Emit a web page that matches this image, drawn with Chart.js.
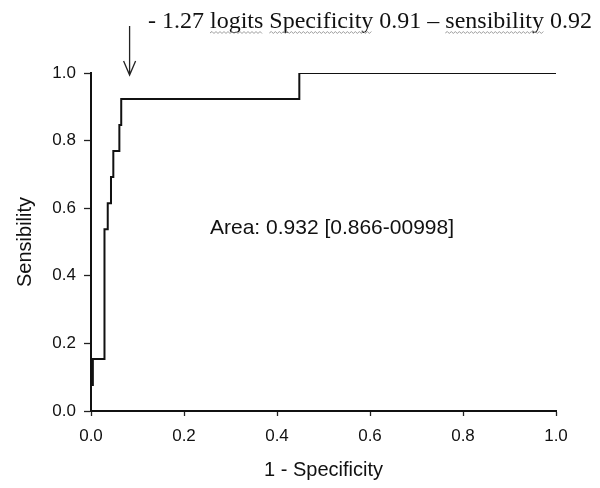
<!DOCTYPE html>
<html>
<head>
<meta charset="utf-8">
<script src="https://cdn.jsdelivr.net/npm/chart.js@4.4.0/dist/chart.umd.min.js"></script>
<style>
  html, body { margin: 0; padding: 0; background: #fff; }
  #wrap { width: 600px; height: 488px; }
</style>
</head>
<body>
<div id="wrap"><canvas id="roc"></canvas></div>
<script>
// ROC curve points (1 - specificity, sensibility)
const fpr = [0, 0, 0.004, 0.004, 0.029, 0.029, 0.036, 0.036, 0.043, 0.043, 0.048, 0.048, 0.061, 0.061, 0.065, 0.065, 0.448, 0.448, 1.0];
const tpr = [0, 0.077, 0.077, 0.154, 0.154, 0.538, 0.538, 0.615, 0.615, 0.692, 0.692, 0.769, 0.769, 0.846, 0.846, 0.923, 0.923, 1.0, 1.0];
const tickValues = [0, 0.2, 0.4, 0.6, 0.8, 1.0];
const cutText = '- 1.27 logits Specificity 0.91 \u2013 sensibility 0.92';
const areaText = 'Area: 0.932 [0.866-00998]';
const arrowAt = 0.083;

// annotation plugin: top caption with arrow, area text
const notes = {
    id: 'notes',
    afterDraw(chart) {
        const ctx = chart.ctx;
        const xs = chart.scales.x;
        ctx.save();
        // caption
        ctx.font = '24px "Liberation Serif", "Times New Roman", serif';
        ctx.fillStyle = '#111';
        ctx.textBaseline = 'alphabetic';
        const tx = 148, ty = 28;
        ctx.fillText(cutText, tx, ty);
        // wavy underline under flagged words
        ['logits', 'Specificity', 'sensibility'].forEach(function (w) {
            const i = cutText.indexOf(w);
            const x0 = tx + ctx.measureText(cutText.slice(0, i)).width;
            const x1 = x0 + ctx.measureText(w).width;
            ctx.beginPath();
            ctx.strokeStyle = '#9a9a9a';
            ctx.lineWidth = 1;
            let up = true;
            ctx.moveTo(x0, ty + 5);
            for (let x = x0 + 2; x <= x1; x += 2) {
                ctx.lineTo(x, ty + (up ? 3.5 : 5.5));
                up = !up;
            }
            ctx.stroke();
        });
        // arrow
        const ax = xs.getPixelForValue(arrowAt);
        ctx.strokeStyle = '#222';
        ctx.lineWidth = 1.3;
        ctx.beginPath();
        ctx.moveTo(ax, 26);
        ctx.lineTo(ax, 75);
        ctx.moveTo(ax - 6, 61);
        ctx.lineTo(ax, 75);
        ctx.lineTo(ax + 6, 61);
        ctx.stroke();
        // area
        ctx.font = '21px "Liberation Sans", Arial, sans-serif';
        ctx.fillStyle = '#111';
        ctx.textAlign = 'center';
        ctx.textBaseline = 'middle';
        ctx.fillText(areaText, 332, 228);
        ctx.restore();
    }
};

const tickFont = { family: '"Liberation Sans", Arial, sans-serif', size: 17 };
const titleFont = { family: '"Liberation Sans", Arial, sans-serif', size: 20 };

new Chart(document.getElementById('roc'), {
    type: 'scatter',
    data: {
        datasets: [{
            data: fpr.map((v, i) => ({ x: v, y: tpr[i] })),
            showLine: true,
            borderColor: '#111',
            borderWidth: 2,
            pointRadius: 0,
            fill: false
        }]
    },
    options: {
        responsive: true,
        maintainAspectRatio: false,
        animation: false,
        layout: { padding: { left: 0, top: 73, right: 44, bottom: 0 } },
        plugins: { legend: { display: false }, tooltip: { enabled: false } },
        scales: {
            x: {
                type: 'linear', min: 0, max: 1,
                afterBuildTicks: s => { s.ticks = tickValues.map(v => ({ value: v })); },
                afterFit: s => { s.height = 77; },
                grid: { drawOnChartArea: false, color: '#222', tickLength: 5, tickWidth: 1.3 },
                border: { color: '#111', width: 2 },
                ticks: { color: '#111', font: tickFont, padding: 10, maxRotation: 0, callback: v => v.toFixed(1) },
                title: { display: true, text: '1 - Specificity', color: '#111', font: titleFont, padding: { top: 0, bottom: 6 } }
            },
            y: {
                type: 'linear', min: 0, max: 1,
                afterBuildTicks: s => { s.ticks = tickValues.map(v => ({ value: v })); },
                afterFit: s => { s.width = 91; },
                grid: { drawOnChartArea: false, color: '#222', tickLength: 7, tickWidth: 1.3 },
                border: { color: '#111', width: 2 },
                ticks: { color: '#111', font: tickFont, padding: 8, callback: v => v.toFixed(1) },
                title: { display: true, text: 'Sensibility', color: '#111', font: titleFont, padding: { top: 13, bottom: 0 } }
            }
        }
    },
    plugins: [notes]
});
</script>
</body>
</html>
